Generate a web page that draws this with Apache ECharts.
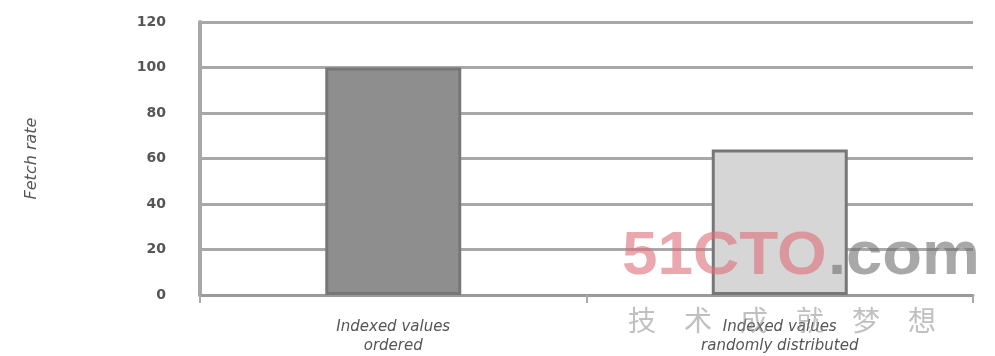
<!DOCTYPE html>
<html><head><meta charset="utf-8">
<script src="https://cdn.jsdelivr.net/npm/echarts@6/dist/echarts.min.js"></script>
<style>html,body{margin:0;padding:0;background:#fff}#c{width:995px;height:356px}</style>
</head><body><div id="c"></div>
<script>
const categories = ['Indexed values\nordered', 'Indexed values\nrandomly distributed'];
const fetchRate = [100, 64];
const barColors = ['#8e8e8e', '#d6d6d6'];
const yTitle = 'Fetch rate';
const watermarkCn = ['技', '术', '成', '就', '梦', '想'];

const chart = echarts.init(document.getElementById('c'));
const cnGraphics = watermarkCn.map((ch, i) => ({
  type: 'text', x: 628 + i * 56, y: 306, z: 100,
  style: {text: ch, fill: 'rgba(140,140,140,0.55)', font: '28px "Noto Sans CJK SC"'}
}));
chart.setOption({
  animation: false,
  grid: {left: 200, right: 22, top: 22, bottom: 61},
  xAxis: {
    type: 'category', data: categories,
    axisLine: {lineStyle: {color: '#9a9a9a', width: 3}},
    axisTick: {show: true, length: 8, lineStyle: {color: '#aaa', width: 2}},
    axisLabel: {color: '#555', fontFamily: 'DejaVu Sans', fontStyle: 'italic', fontSize: 15, lineHeight: 19, margin: 23}
  },
  yAxis: {
    type: 'value', min: 0, max: 120, interval: 20,
    name: yTitle, nameLocation: 'middle', nameGap: 160, nameRotate: 90,
    nameTextStyle: {color: '#555', fontFamily: 'DejaVu Sans', fontStyle: 'italic', fontSize: 16},
    axisLine: {show: true, lineStyle: {color: '#a8a8a8', width: 4}},
    axisTick: {show: false},
    axisLabel: {color: '#555', fontFamily: 'DejaVu Sans', fontWeight: 'bold', fontSize: 14, margin: 34},
    splitLine: {lineStyle: {color: '#a8a8a8', width: 3}}
  },
  series: [{
    type: 'bar', barWidth: 136,
    data: fetchRate.map((v, i) => ({value: v, itemStyle: {color: barColors[i]}})),
    itemStyle: {borderColor: '#777', borderWidth: 3}
  }],
  graphic: [
    {type: 'text', x: 622, y: 226, z: 100, scaleX: 1.03,
     style: {text: '51CTO', fill: 'rgba(220,110,120,0.6)', font: 'bold 62px "Liberation Sans", sans-serif'}},
    {type: 'text', x: 828, y: 226, z: 100, scaleX: 1.05,
     style: {text: '.com', fill: 'rgba(110,110,110,0.6)', font: 'bold 62px "Liberation Sans", sans-serif'}}
  ].concat(cnGraphics)
});
</script></body></html>
